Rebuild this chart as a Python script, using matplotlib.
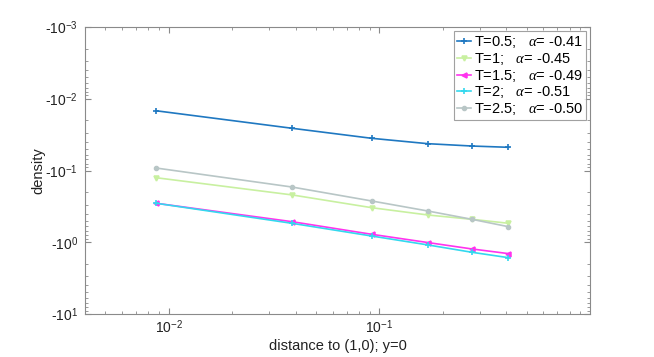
import matplotlib
matplotlib.use("Agg")
import matplotlib.pyplot as plt
from matplotlib.ticker import FixedLocator, FixedFormatter, LogLocator, NullFormatter

plt.rcParams['font.family'] = ['Liberation Sans', 'DejaVu Sans']
plt.rcParams['mathtext.fontset'] = 'custom'
plt.rcParams['mathtext.it'] = 'Liberation Serif:italic'
plt.rcParams['mathtext.rm'] = 'Liberation Sans'

# distance to (1,0)
distance = [0.0087, 0.0385, 0.092, 0.170, 0.275, 0.41]

# magnitudes of (negative) density
dens_T05 = [0.0147, 0.0258, 0.0356, 0.0423, 0.0456, 0.0475]
dens_T1 = [0.126, 0.219, 0.330, 0.417, 0.479, 0.544]
dens_T15 = [0.286, 0.517, 0.775, 1.01, 1.24, 1.44]
dens_T2 = [0.286, 0.545, 0.819, 1.09, 1.38, 1.64]
dens_T25 = [0.0923, 0.170, 0.266, 0.367, 0.479, 0.607]

labels = ["T=0.5;   $\\alpha$= -0.41", "T=1;   $\\alpha$= -0.45",
          "T=1.5;   $\\alpha$= -0.49", "T=2;   $\\alpha$= -0.51",
          "T=2.5;   $\\alpha$= -0.50"]
colors = ['#1f78c1', '#c8f0a0', '#ff33ee', '#33d8ee', '#b8c6c6']
markers = ['+', 'v', '<', '+', 'o']
msizes = [4, 3.5, 3.5, 4, 2.8]

ytick_vals = [1e-3, 1e-2, 1e-1, 1e0, 1e1]
ytick_labels = ['-10$^{-3}$', '-10$^{-2}$', '-10$^{-1}$', '-10$^{0}$', '-10$^{1}$']
xtick_vals = [1e-2, 1e-1]
xtick_labels = ['10$^{-2}$', '10$^{-1}$']

fig = plt.figure(figsize=(6.54, 3.57), dpi=100)
ax = fig.add_axes([85/654, 43/357, 505/654, 287/357])

series = [dens_T05, dens_T1, dens_T15, dens_T2, dens_T25]
for s, lab, c, m, ms in zip(series, labels, colors, markers, msizes):
    ax.plot(distance, s, color=c, marker=m, markersize=ms, markeredgewidth=1.2,
            linewidth=1.2, label=lab)

ax.set_xscale('log')
ax.set_yscale('log')
ax.set_xlim(0.004, 1.0)
ax.set_ylim(10, 1e-3)

ax.yaxis.set_major_locator(FixedLocator(ytick_vals))
ax.yaxis.set_major_formatter(FixedFormatter(ytick_labels))
ax.yaxis.set_minor_locator(LogLocator(base=10, subs=range(2, 10)))
ax.yaxis.set_minor_formatter(NullFormatter())
ax.xaxis.set_major_locator(FixedLocator(xtick_vals))
ax.xaxis.set_major_formatter(FixedFormatter(xtick_labels))
ax.xaxis.set_minor_locator(LogLocator(base=10, subs=range(2, 10)))
ax.xaxis.set_minor_formatter(NullFormatter())

spine_color = '#8a8a8a'
for sp in ax.spines.values():
    sp.set_color(spine_color)
    sp.set_linewidth(0.8)
ax.tick_params(which='both', direction='in', top=True, right=True,
               color=spine_color, labelsize=10, labelcolor='#222222')
ax.tick_params(which='major', length=4, width=0.8)
ax.tick_params(axis='x', which='major', pad=3)
ax.tick_params(axis='y', which='major', pad=5)
ax.tick_params(which='minor', length=2.5, width=0.6)

ax.set_xlabel('distance to (1,0); y=0', fontsize=10.5, color='#222222', labelpad=2)
ax.set_ylabel('density', fontsize=10.5, color='#222222', labelpad=0)

leg = ax.legend(loc='upper right', fontsize=10.5, frameon=True, fancybox=False,
                borderaxespad=0.3, handlelength=1.0, handletextpad=0.15,
                labelspacing=0.05, borderpad=0.2)
leg.get_frame().set_edgecolor('#8a8a8a')
leg.get_frame().set_linewidth(0.8)

fig.savefig('out.png', dpi=100)
